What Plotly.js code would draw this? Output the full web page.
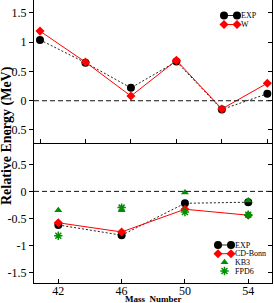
<!DOCTYPE html>
<html><head><meta charset="utf-8">
<script src="https://cdn.plot.ly/plotly-3.0.1.min.js"></script>
<style>html,body{margin:0;padding:0;background:#fff}#chart{width:274px;height:303px}</style>
</head><body><div id="chart"></div>
<script>
// ---- data ----
const topIndex = [1, 2, 3, 4, 5, 6];
const topExp = [1.04, 0.65, 0.22, 0.67, -0.15, 0.12];
const topW   = [1.19, 0.66, 0.08, 0.69, -0.14, 0.30];

const massNumbers = [42, 46, 50, 54];
const botExp    = [-0.62, -0.81, -0.22, -0.20];
const botCDBonn = [-0.58, -0.75, -0.33, -0.44];
const botKB3    = [-0.35, -0.35, -0.02, -0.17];
const botFPD6   = [-0.82, -0.30, -0.38, -0.43];

const topYTicks = [1.5, 1, 0.5, 0, -0.5];
const topYTickText = ["1.5", "1", "0.5", "0", "-0.5"];
const botYTicks = [0.5, 0, -0.5, -1, -1.5];
const botYTickText = ["0.5", "0", "-0.5", "-1", "-1.5"];
const massTickText = ["42", "46", "50", "54"];

// ---- styles ----
const FONT = "Liberation Serif, Times New Roman, serif";
const GREEN = "#008f00";
const RED = "#ff0000";
const expStyle = {mode: "lines+markers", line: {color: "#222", width: 1, dash: "2px,2px"}, marker: {symbol: "circle", size: 8, color: "#000"}};
const wStyle = {mode: "lines+markers", line: {color: RED, width: 1}, marker: {symbol: "diamond", size: 7, color: RED}};
const kbStyle = {mode: "markers", marker: {symbol: "triangle-up", size: 7, color: GREEN}};
const fpStyle = {mode: "markers", marker: {symbol: "asterisk-open", size: 7, color: GREEN, line: {color: GREEN, width: 1.5}}};

function tr(x, y, style, xa, ya) {
  return Object.assign({x: x, y: y, xaxis: xa, yaxis: ya, showlegend: false, cliponaxis: false, hoverinfo: "skip"}, JSON.parse(JSON.stringify(style)));
}

const traces = [
  tr(topIndex, topExp, expStyle, "x", "y"),
  tr(topIndex, topW, wStyle, "x", "y"),
  tr(massNumbers, botExp, expStyle, "x2", "y2"),
  tr(massNumbers, botCDBonn, wStyle, "x2", "y2"),
  tr(massNumbers, botKB3, kbStyle, "x2", "y2"),
  tr(massNumbers, botFPD6, fpStyle, "x2", "y2"),
];

// ---- custom compact legends (pixel-space overlay axis) ----
const annotations = [];
function legend(items, x0, x1, xt, ys) {
  items.forEach((it, i) => {
    const st = JSON.parse(JSON.stringify(it.style));
    if (st.mode === "markers") {
      traces.push(Object.assign({x: [(x0 + x1) / 2], y: [ys[i]], xaxis: "x3", yaxis: "y3", showlegend: false, cliponaxis: false, hoverinfo: "skip"}, st));
    } else {
      traces.push(Object.assign({x: [x0, x1], y: [ys[i], ys[i]], xaxis: "x3", yaxis: "y3", showlegend: false, cliponaxis: false, hoverinfo: "skip"}, st, {line: Object.assign({}, st.line, {dash: "solid"})}));
    }
    annotations.push({text: it.name, xref: "x3", yref: "y3", x: xt, y: ys[i], xanchor: "left", yanchor: "middle", showarrow: false, borderpad: 0, font: {family: FONT, size: 8, color: "#000"}});
  });
}
legend([{name: "EXP", style: expStyle}, {name: "W", style: wStyle}], 224, 237, 240, [15.5, 24.5]);
legend([{name: "EXP", style: expStyle}, {name: "CD-Bonn", style: wStyle}, {name: "KB3", style: kbStyle}, {name: "FPD6", style: fpStyle}], 218, 231, 234, [245, 253.7, 262.3, 271]);

// axis titles in paper coordinates (pixel helpers)
const L = 34, PW = 238, PH = 283;
annotations.push({text: "<b>Relative Energy (MeV)</b>", xref: "paper", yref: "paper", x: (7 - L) / PW, y: (PH - 136) / PH, xanchor: "center", yanchor: "middle", textangle: -90, showarrow: false, font: {family: FONT, size: 14, color: "#000"}});
annotations.push({text: "<b>Mass  Number</b>", xref: "paper", yref: "paper", x: (153 - L) / PW, y: (PH - 298.5) / PH, xanchor: "center", yanchor: "middle", showarrow: false, borderpad: 0, font: {family: FONT, size: 9, color: "#000"}});

const axBase = {showgrid: false, zeroline: false, showline: true, linecolor: "#000", linewidth: 1, tickcolor: "#000", tickwidth: 1, tickfont: {family: FONT, size: 12, color: "#000"}};
const SPLIT = 0.4958;

const layout = {
  width: 274, height: 303,
  margin: {l: 34, r: 2, t: 0, b: 20},
  paper_bgcolor: "#fff", plot_bgcolor: "rgba(0,0,0,0)",
  showlegend: false,
  xaxis: Object.assign({}, axBase, {anchor: "y", domain: [0, 1], range: [0.868, 6.103], tickvals: topIndex, showticklabels: false, ticks: "inside", ticklen: 4}),
  yaxis: Object.assign({}, axBase, {anchor: "x", domain: [SPLIT, 1], range: [-0.717, 1.722], tickvals: topYTicks, ticktext: topYTickText, ticks: "outside", ticklen: 4}),
  xaxis2: Object.assign({}, axBase, {anchor: "y2", domain: [0, 1], range: [40.465, 55.5], tickvals: massNumbers, ticktext: massTickText, ticks: "inside", ticklen: 4, ticklabelstandoff: -3}),
  yaxis2: Object.assign({}, axBase, {anchor: "x2", domain: [0, SPLIT], range: [-1.693, 0.9], tickvals: botYTicks, ticktext: botYTickText, ticks: "outside", ticklen: 4}),
  yaxis4: Object.assign({}, axBase, {overlaying: "y", side: "right", anchor: "x", range: [-0.717, 1.722], tickvals: topYTicks, showticklabels: false, ticks: "inside", ticklen: 4}),
  yaxis5: Object.assign({}, axBase, {overlaying: "y2", side: "right", anchor: "x2", range: [-1.693, 0.9], tickvals: botYTicks, showticklabels: false, ticks: "inside", ticklen: 4}),
  xaxis3: {anchor: "y3", domain: [0, 1], range: [34, 272], visible: false, fixedrange: true},
  yaxis3: {anchor: "x3", domain: [0, 1], range: [283, 0], visible: false, fixedrange: true},
  shapes: [
    {type: "line", xref: "x domain", yref: "y", x0: 0, x1: 1, y0: 0, y1: 0, line: {color: "#111", width: 1, dash: "5px,3px"}},
    {type: "line", xref: "x2 domain", yref: "y2", x0: 0, x1: 1, y0: 0, y1: 0, line: {color: "#111", width: 1, dash: "5px,3px"}}
  ],
  annotations: annotations
};

traces.push({x: [null], y: [null], xaxis: "x", yaxis: "y4", showlegend: false, hoverinfo: "skip"});
traces.push({x: [null], y: [null], xaxis: "x2", yaxis: "y5", showlegend: false, hoverinfo: "skip"});

Plotly.newPlot("chart", traces, layout, {staticPlot: true, displayModeBar: false});
</script></body></html>
